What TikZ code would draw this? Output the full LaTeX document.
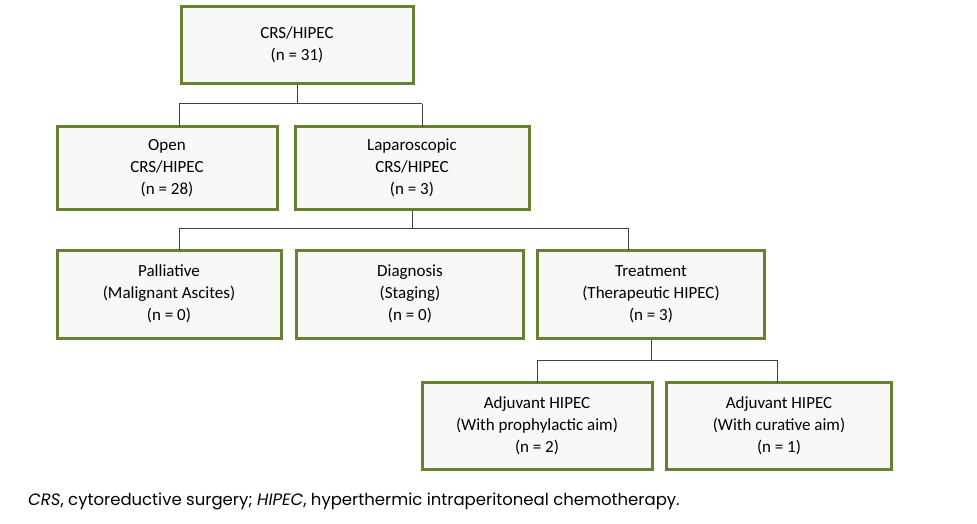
\documentclass[tikz,border=0pt]{standalone}
\usepackage{fontspec}
\setmainfont{Carlito}
\newfontfamily\fnfont{Poppins}
\begin{document}
\begin{tikzpicture}[x=1pt,y=-1pt,
  box/.style={draw=boxgreen,line width=3pt,fill=boxfill,align=center,inner sep=0pt,font=\fontsize{17}{22}\selectfont},
  conn/.style={draw=black!75,line width=1pt}]
\definecolor{boxgreen}{RGB}{102,128,52}
\definecolor{boxfill}{RGB}{248,248,246}
\useasboundingbox (0,0) rectangle (977,524);
\fill[white] (0,0) rectangle (977,524);
\node[box,minimum width=232pt,minimum height=77pt] (top) at (297,45) {CRS/HIPEC\\(n = 31)};
\node[box,minimum width=220pt,minimum height=82pt] (open) at (167,168) {Open\\CRS/HIPEC\\(n = 28)};
\node[box,minimum width=234pt,minimum height=82pt] (lap) at (412,168) {Laparoscopic\\CRS/HIPEC\\(n = 3)};
\node[box,minimum width=224pt,minimum height=88pt] (pal) at (169,294) {Palliative\\(Malignant Ascites)\\(n = 0)};
\node[box,minimum width=227pt,minimum height=88pt] (dia) at (410,294) {Diagnosis\\(Staging)\\(n = 0)};
\node[box,minimum width=227pt,minimum height=88pt] (tre) at (651,294) {Treatment\\(Therapeutic HIPEC)\\(n = 3)};
\node[box,minimum width=230pt,minimum height=87pt] (adj1) at (537,426) {Adjuvant HIPEC\\(With prophylactic aim)\\(n = 2)};
\node[box,minimum width=225pt,minimum height=87pt] (adj2) at (779,426) {Adjuvant HIPEC\\(With curative aim)\\(n = 1)};
\coordinate (j1) at (297,104);
\coordinate (j2) at (412,228);
\coordinate (j3) at (651,360);
\draw[conn] (top.south) -- (j1);
\draw[conn] (179,104) -- (422,104);
\draw[conn] (179,104) -- (179,127);
\draw[conn] (422,104) -- (422,127);
\draw[conn] (lap.south) -- (j2);
\draw[conn] (179,228) -- (628,228);
\draw[conn] (179,228) -- (179,250);
\draw[conn] (628,228) -- (628,250);
\draw[conn] (tre.south) -- (j3);
\draw[conn] (537,360) -- (777,360);
\draw[conn] (537,360) -- (537,383);
\draw[conn] (777,360) -- (777,383);
\node[anchor=west,inner sep=0pt,font=\fnfont\fontsize{16.5}{19}\selectfont] (fn) at (28,501) {\textit{CRS}, cytoreductive surgery; \textit{HIPEC}, hyperthermic intraperitoneal chemotherapy.};
\end{tikzpicture}
\end{document}
